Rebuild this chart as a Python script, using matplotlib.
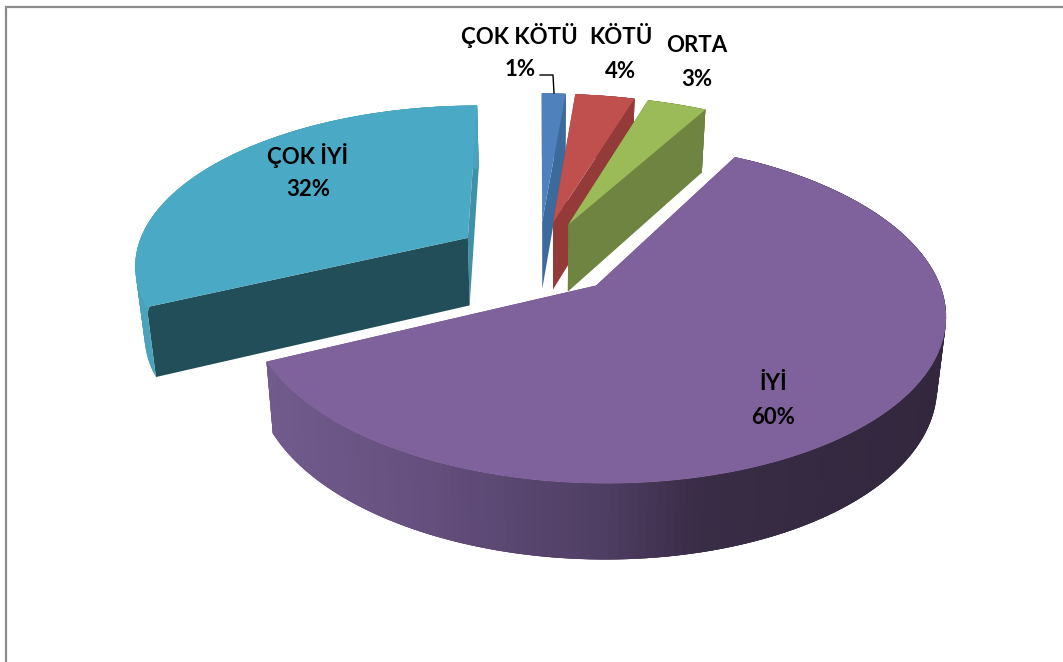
#!/usr/bin/env python3
# Exploded 3D pie, drawn by hand since matplotlib has no 3D pie
import numpy as np
import matplotlib
matplotlib.use('Agg')
import matplotlib.pyplot as plt
from matplotlib.colors import LinearSegmentedColormap

categories = ['ÇOK KÖTÜ', 'KÖTÜ', 'ORTA', 'İYİ', 'ÇOK İYİ']
percents = [1, 4, 3, 60, 32]
# shares as drawn, the printed percents are rounded
shares = [1.33, 3.33, 3.34, 60, 32]

top_colors = ['#4f81bd', '#c0504d', '#9bbb59', '#7f629c', '#4aa9c4']
cut_start_colors = ['#3d6a9c', '#943a38', '#6f8440', '#5f4a78', '#214e58']
cut_end_colors = ['#3d6a9c', '#943a38', '#6f8440', '#5f4a78', '#3f90a8']
wall_colors = ['#3d6a9c', '#943a38', '#6f8440', None, '#4aa3bb']

# projection of the pie plane onto the picture, in pixels
X0, Y0 = 539, 257
A, B = 340, 158
PERSP = 0.153
EXPLODE = 0.23

# small per slice corrections to the fit
u_scale = [1, 1, 1, 0.985, 0.98]
u_shift = [0, 0, 0, 0.006, -0.019]
v_shift = [0, 0, 0, -0.008, 0]

# label centres in pixels: (name x, name y, percent x, percent y)
label_pos = [(519, 36, 520, 69), (621, 38, 621, 72), (697, 46, 697, 79),
             (773, 384, 773, 417), (308, 155, 308, 189)]

purple_wall = LinearSegmentedColormap.from_list(
    'purple_wall', [(0.0, '#715b8c'), (0.2, '#675181'), (0.5, '#4f3e64'),
                    (0.65, '#392c46'), (1.0, '#32273d')])


def project(u, v):
    s = 1 / (1 + PERSP * v)
    return X0 + A * u * s, Y0 - B * v * s


def lower(x, y):
    # same point on the underside of the pie
    x = np.asarray(x, dtype=float)
    y = np.asarray(y, dtype=float)
    return 547 + (x - 547) * (1 - 0.0226), y + 59.2 + 0.0349 * y


def slice_points(i, start, end, n=160):
    mid = np.radians((start + end) / 2)
    cu = EXPLODE * np.sin(mid) + u_shift[i]
    cv = EXPLODE * np.cos(mid) + v_shift[i]
    th = np.radians(np.linspace(start, end, n))
    rx, ry = project(cu + u_scale[i] * np.sin(th), cv + np.cos(th))
    ax_, ay_ = project(cu, cv)
    return ax_, ay_, rx, ry


def quad(ax, xs, ys, color):
    ax.fill(xs, ys, facecolor=color, edgecolor='none', linewidth=0)


fig = plt.figure(figsize=(10.63, 6.62), dpi=100)
ax = fig.add_axes([0, 0, 1, 1])
ax.set_xlim(0, 1063)
ax.set_ylim(662, 0)
ax.axis('off')

# chart frame, only top and left are in the picture
ax.plot([5.5, 5.5, 1063], [662, 6.5, 6.5], color='#8c8c8c', linewidth=1.6,
        solid_joinstyle='miter')

edges = np.cumsum([0] + shares) * 3.6
pie_slices = {}
for i in range(len(shares)):
    pie_slices[i] = slice_points(i, edges[i], edges[i + 1])

# back to front: teal first, purple last
for i in [4, 0, 1, 2, 3]:
    ax_, ay_, rx, ry = pie_slices[i]
    bx, by = lower(rx, ry)
    abx, aby = lower(ax_, ay_)

    # two radial cut faces
    quad(ax, [ax_, rx[-1], bx[-1], abx], [ay_, ry[-1], by[-1], aby], cut_end_colors[i])
    quad(ax, [ax_, rx[0], bx[0], abx], [ay_, ry[0], by[0], aby], cut_start_colors[i])

    # outer wall, each strip runs under the next so no seams show
    for j in range(len(rx) - 1):
        k = min(j + 3, len(rx) - 1)
        if wall_colors[i] is None:
            c = purple_wall(1 - (946 - rx[j]) / 676)
        else:
            c = wall_colors[i]
        quad(ax, [rx[j], rx[k], bx[k], bx[j]], [ry[j], ry[k], by[k], by[j]], c)

    # top face
    quad(ax, np.r_[ax_, rx], np.r_[ay_, ry], top_colors[i])

# leader line of the smallest slice
ax.plot([540, 553, 554], [75, 75, 93], color='black', linewidth=1.0)

for name, pct, (nx, ny, px, py) in zip(categories, percents, label_pos):
    ax.text(nx, ny, name, ha='center', va='center', fontsize=16,
            fontweight='bold', family='Lato', color='black')
    ax.text(px, py, f'{pct}%', ha='center', va='center', fontsize=16,
            fontweight='bold', family='Lato', color='black')

fig.savefig('out.png', dpi=100, facecolor='white')
